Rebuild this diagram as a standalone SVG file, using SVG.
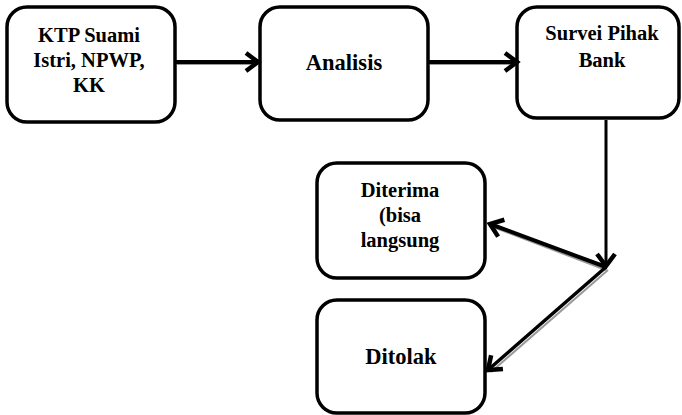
<svg xmlns="http://www.w3.org/2000/svg" width="682" height="415" viewBox="0 0 682 415">
<style>
.box{fill:#fff;stroke:#000;stroke-width:3.5}
.t{font-family:'Liberation Serif','Times New Roman','DejaVu Serif',serif;font-weight:bold;font-size:20.5px;text-anchor:middle;fill:#000}
.big{font-size:22.5px}
.c{stroke:#000;stroke-width:4;fill:none}
.s{stroke:#999;stroke-width:2;fill:none}
</style>
<defs>
<marker id="ah" markerUnits="userSpaceOnUse" markerWidth="24" markerHeight="24" viewBox="0 0 24 24" refX="19" refY="12" orient="auto">
<path d="M7,3 L19,12 L7,21" fill="none" stroke="#000" stroke-width="4.5" stroke-linejoin="miter"/>
</marker>
</defs>
<g id="n1"><rect class="box" x="7" y="7" width="168" height="115" rx="20"/>
<text class="t" x="89" y="42">KTP Suami</text><text class="t" x="89" y="67">Istri, NPWP,</text><text class="t" x="89" y="92">KK</text></g>
<g id="n2"><rect class="box" x="260" y="7" width="168" height="113" rx="20"/>
<text class="t big" x="344" y="70">Analisis</text></g>
<g id="n3"><rect class="box" x="517" y="7" width="162" height="111" rx="20"/>
<text class="t" x="602" y="40">Survei Pihak</text><text class="t" x="602" y="67">Bank</text></g>
<g id="n4"><rect class="box" x="317" y="163" width="168" height="115" rx="20"/>
<text class="t" x="400" y="197">Diterima</text><text class="t" x="400" y="222">(bisa</text><text class="t" x="400" y="247">langsung</text></g>
<g id="n5"><rect class="box" x="317" y="300" width="168" height="113" rx="20"/>
<text class="t big" x="401" y="364">Ditolak</text></g>
<g id="connectors">
<line class="s" x1="177" y1="64" x2="252" y2="64"/>
<line class="s" x1="430" y1="64" x2="511" y2="64"/>
<line class="s" x1="493" y1="227" x2="606" y2="270"/>
<line class="s" x1="608" y1="270" x2="491" y2="372"/>
<line class="c" x1="175" y1="62" x2="258" y2="62" marker-end="url(#ah)"/>
<line class="c" x1="428" y1="62" x2="517" y2="62" marker-end="url(#ah)"/>
<line class="c" x1="606" y1="120" x2="606" y2="266" marker-end="url(#ah)" style="stroke-width:3"/>
<line class="c" x1="606" y1="267" x2="490" y2="224" marker-end="url(#ah)"/>
<line class="c" x1="606" y1="267" x2="488" y2="370" marker-end="url(#ah)" style="stroke-width:3.5"/>
</g>
</svg>
